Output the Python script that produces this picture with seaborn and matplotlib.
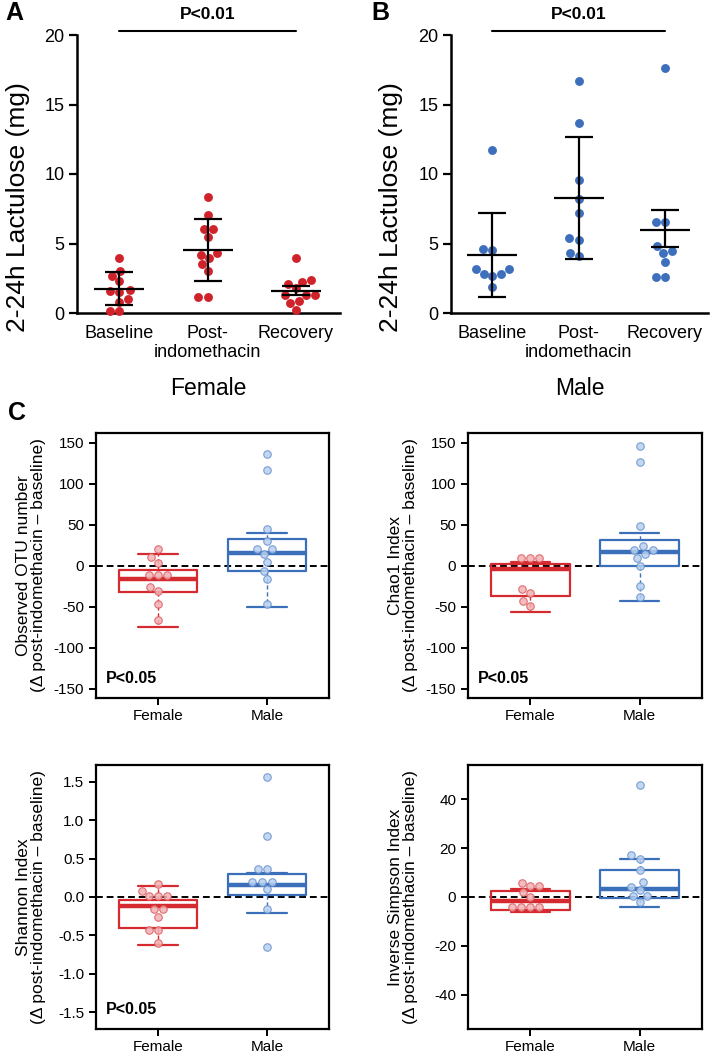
import numpy as np
import pandas as pd
import matplotlib
matplotlib.use('Agg')
import matplotlib.pyplot as plt
import seaborn as sns

sns.set_theme(style='ticks')
plt.rcParams['font.family'] = ['Liberation Sans', 'DejaVu Sans']
plt.rcParams.update({'text.color': 'black', 'axes.labelcolor': 'black',
                     'xtick.color': 'black', 'ytick.color': 'black',
                     'axes.edgecolor': 'black'})

# ---------------- Panels A / B data ----------------
timepoints = ['Baseline', 'Post-\nindomethacin', 'Recovery']
female_baseline = [3.95, 2.68, 2.32, 2.99, 1.63, 1.49, 1.56, 0.79, 1.00, 0.12, 0.12]
female_post = [8.34, 7.07, 6.04, 6.04, 5.46, 4.31, 3.95, 4.19, 3.52, 2.99, 1.13, 1.13]
female_recovery = [3.93, 2.40, 2.11, 2.23, 1.77, 1.29, 1.29, 1.29, 0.84, 0.72, 0.24]
female_mean = [1.72, 4.55, 1.60]
female_err_low = [0.60, 2.28, 1.32]
female_err_high = [2.95, 6.73, 1.92]

male_baseline = [11.74, 4.50, 4.60, 3.16, 3.16, 2.83, 2.63, 2.83, 1.87]
male_post = [16.72, 13.65, 9.58, 8.22, 7.19, 5.39, 5.27, 4.07, 4.31]
male_recovery = [17.60, 6.54, 6.54, 4.84, 4.31, 4.43, 3.69, 2.59, 2.59]
male_mean = [4.19, 8.26, 5.94]
male_err_low = [1.15, 3.88, 4.74]
male_err_high = [7.16, 12.67, 7.40]

lactulose_ticks = [0, 5, 10, 15, 20]

# ---------------- Panel C data ----------------
groups = ['Female', 'Male']
# box stats order: [whisker low, q1, median, q3, whisker high]
otu_female = [21, 11, 4, -11, -11, -11, -26, -31, -46, -66]
otu_male = [137, 117, 45, 30, 21, 21, 15, 5, -6, -16, -46]
otu_female_box = [-74, -32, -16.3, -4.5, 14.2]
otu_male_box = [-50.4, -6.5, 16.3, 33, 39.8]

chao_female = [10, 10, 10, -28, -33, -43, -49]
chao_male = [146, 127, 49, 24, 20, 20, 14, 10, 0, -24, -38]
chao_female_box = [-55.9, -36.7, -4.1, 2.0, 5.3]
chao_male_box = [-42.9, 0.0, 17.1, 31.4, 40.4]

shannon_female = [0.17, 0.08, 0.01, 0.01, 0.01, -0.16, -0.16, -0.26, -0.43, -0.43, -0.60]
shannon_male = [1.56, 0.79, 0.36, 0.36, 0.19, 0.19, 0.19, 0.10, -0.16, -0.65]
shannon_female_box = [-0.62, -0.40, -0.12, -0.04, 0.14]
shannon_male_box = [-0.21, 0.03, 0.15, 0.30, 0.31]

invsimp_female = [5.8, 4.5, 4.5, 2.2, 0.0, -4.2, -4.2, -4.2, -4.2]
invsimp_male = [46, 17, 15.5, 11, 6, 4.2, 2.8, 0.4, 0.4, -1.9]
invsimp_female_box = [-6.3, -5.4, -1.8, 2.6, 3.4]
invsimp_male_box = [-3.9, -0.4, 3.3, 11.2, 15.6]

RED = '#d0222a'
BLUE = '#3d6fbd'
BOX_RED = '#d42a30'
BOX_BLUE = '#3c6fb9'
FILL_RED = '#f2b1b3'
EDGE_RED = '#dc5a5e'
FILL_BLUE = '#b9d0ef'
EDGE_BLUE = '#6490cf'

W, H = 717, 1057
fig = plt.figure(figsize=(W / 100, H / 100), dpi=100)


def px_axes(left, top, right, bottom):
    return fig.add_axes([left / W, 1 - bottom / H, (right - left) / W, (bottom - top) / H])


def lactulose_panel(ax, vals, mean, low, high, color, sex_label, label_x):
    df = pd.DataFrame({
        'time': sum([[t] * len(v) for t, v in zip(timepoints, vals)], []),
        'value': sum([list(v) for v in vals], [])})
    sns.swarmplot(data=df, x='time', y='value', order=timepoints, color=color,
                  size=6.4, linewidth=0, ax=ax, clip_on=False, zorder=3)
    xs = np.arange(len(timepoints))
    mean = np.array(mean)
    yerr = [mean - np.array(low), np.array(high) - mean]
    ax.errorbar(xs, mean, yerr=yerr, fmt='none', ecolor='black', elinewidth=1.6,
                capsize=10, capthick=1.6, zorder=4)
    ax.scatter(xs, mean, marker='_', s=1250, color='black', linewidths=1.6, zorder=4)
    ax.set_ylim(0, 20)
    ax.set_yticks(lactulose_ticks)
    ax.set_xlim(-0.48, 2.5)
    for s in ['top', 'right']:
        ax.spines[s].set_visible(False)
    for s in ['left', 'bottom']:
        ax.spines[s].set_linewidth(1.8)
    ax.tick_params(axis='y', length=6, width=1.6, labelsize=13, pad=3)
    ax.tick_params(axis='x', length=0, labelsize=13, pad=9)
    for lab in ax.get_xticklabels():
        lab.set_linespacing(1.1)
    ax.set_ylabel('2-24h Lactulose (mg)', fontsize=19)
    ax.yaxis.set_label_coords(label_x, 0.38)
    ax.set_xlabel(sex_label, fontsize=16.5, labelpad=12)
    # significance bar
    ax.plot([0, 2], [20.3, 20.3], color='black', lw=1.5, clip_on=False)
    ax.text(1, 21.45, 'P<0.01', ha='center', va='center', fontsize=12.5,
            fontweight='bold')


axA = px_axes(77, 35, 340, 313)
lactulose_panel(axA, [female_baseline, female_post, female_recovery],
                female_mean, female_err_low, female_err_high, RED, 'Female', -0.178)
axB = px_axes(451, 35, 708, 313)
lactulose_panel(axB, [male_baseline, male_post, male_recovery],
                male_mean, male_err_low, male_err_high, BLUE, 'Male', -0.185)

fig.text(5 / W, 1 - 13 / H, 'A', fontsize=18, fontweight='bold', va='center', ha='left')
fig.text(371 / W, 1 - 13 / H, 'B', fontsize=18, fontweight='bold', va='center', ha='left')
fig.text(8 / W, 1 - 413 / H, 'C', fontsize=18, fontweight='bold', va='center', ha='left')


def diversity_panel(ax, fvals, mvals, fbox, mbox, ylabel, ylim, yticks, fmt, pval):
    ax.axhline(0, color='black', lw=1.4, ls=(0, (3.5, 2)), zorder=1)
    stats = []
    for b in (fbox, mbox):
        stats.append(dict(whislo=b[0], q1=b[1], med=b[2], q3=b[3], whishi=b[4], fliers=[]))
    art = ax.bxp(stats, positions=[0, 1], widths=0.72, showfliers=False,
                 capwidths=0.36, manage_ticks=False)
    cols = [BOX_RED, BOX_BLUE]
    for i, c in enumerate(cols):
        art['boxes'][i].set(color=c, lw=1.6, zorder=2)
        art['medians'][i].set(color=c, lw=3.2, zorder=2)
        for j in (2 * i, 2 * i + 1):
            art['whiskers'][j].set(color=c, lw=1.0, ls=(0, (3, 2)), zorder=2)
            art['caps'][j].set(color=c, lw=1.6, zorder=2)
    sns.swarmplot(x=['Female'] * len(fvals), y=fvals, order=groups, color=FILL_RED,
                  edgecolor=EDGE_RED, linewidth=0.8, size=5.4, ax=ax, zorder=3)
    sns.swarmplot(x=['Male'] * len(mvals), y=mvals, order=groups, color=FILL_BLUE,
                  edgecolor=EDGE_BLUE, linewidth=0.8, size=5.4, ax=ax, zorder=3)
    for c in ax.collections:
        c.set_alpha(0.85)
    ax.set_xlim(-0.57, 1.57)
    ax.set_ylim(*ylim)
    ax.set_yticks(yticks)
    ax.set_yticklabels([fmt.format(t) for t in yticks])
    ax.set_xticks([0, 1])
    ax.set_xticklabels(groups)
    for s in ax.spines.values():
        s.set_visible(True)
        s.set_linewidth(1.6)
    ax.tick_params(axis='both', length=5, width=1.4, labelsize=11, direction='out')
    ax.tick_params(axis='x', pad=3)
    ax.set_ylabel(ylabel, fontsize=12.5, linespacing=1.0)
    ax.yaxis.set_label_coords(-0.215, 0.5)
    ax.set_xlabel('')
    if pval:
        ax.text(0.043, 0.072, 'P<0.05', transform=ax.transAxes, fontsize=11.5,
                fontweight='bold', ha='left', va='center')


big_ticks = [-150, -100, -50, 0, 50, 100, 150]
sub = '\n(\u0394 post-indomethacin \u2013 baseline)'

ax1 = px_axes(96, 433, 329, 698)
diversity_panel(ax1, otu_female, otu_male, otu_female_box, otu_male_box,
                'Observed OTU number' + sub, (-161, 162), big_ticks, '{:g}', True)
ax2 = px_axes(468, 433, 702, 698)
diversity_panel(ax2, chao_female, chao_male, chao_female_box, chao_male_box,
                'Chao1 Index' + sub, (-161, 162), big_ticks, '{:g}', True)
ax3 = px_axes(96, 765, 329, 1029)
diversity_panel(ax3, shannon_female, shannon_male, shannon_female_box, shannon_male_box,
                'Shannon Index' + sub, (-1.72, 1.72), [-1.5, -1.0, -0.5, 0.0, 0.5, 1.0, 1.5],
                '{:.1f}', True)
ax4 = px_axes(468, 765, 702, 1029)
diversity_panel(ax4, invsimp_female, invsimp_male, invsimp_female_box, invsimp_male_box,
                'Inverse Simpson Index' + sub, (-54, 54), [-40, -20, 0, 20, 40], '{:g}', False)

fig.savefig('out.png', dpi=100)
